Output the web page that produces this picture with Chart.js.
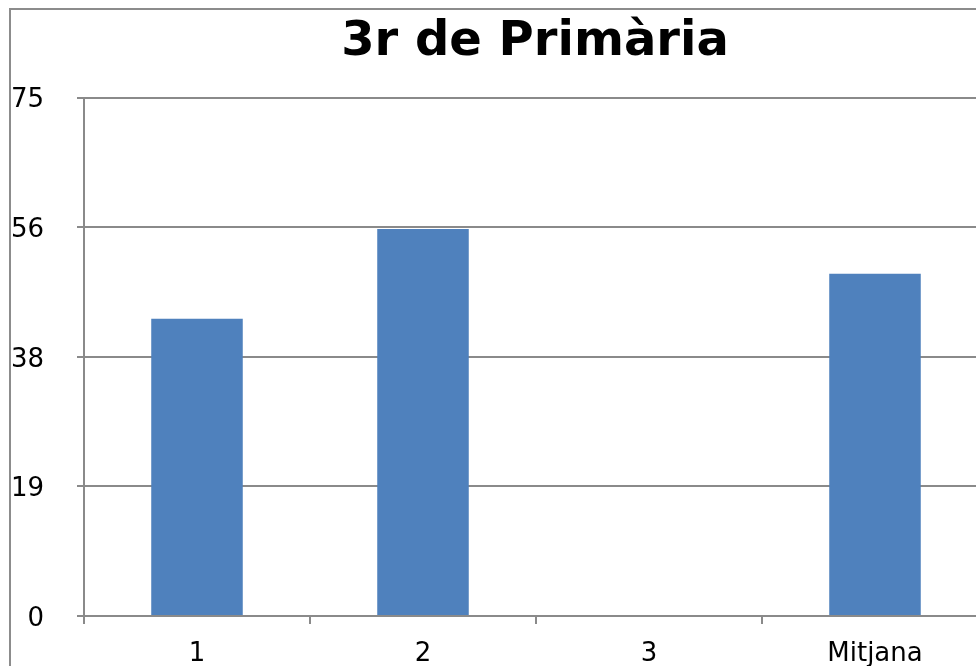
<!DOCTYPE html>
<html>
<head>
<meta charset="utf-8">
<title>3r de Primària</title>
<script src="https://cdn.jsdelivr.net/npm/chart.js@4"></script>
<style>
    html, body { margin: 0; padding: 0; background: #fff; overflow: hidden; }
    #frame {
        position: absolute; left: 9px; top: 8px;
        width: 1100px; height: 800px;
        border: 2px solid #8c8c8c;
    }
    #wrap { position: absolute; left: 0; top: 0; }
</style>
</head>
<body>
<div id="frame"></div>
<div id="wrap"><canvas id="chart" width="1070" height="680"></canvas></div>
<script>
// chart data
const title = '3r de Primària';
const categories = ['1', '2', '3', 'Mitjana'];
const values = [43, 56, 0, 49.5];
const yMax = 75;
const yStep = 18.75;

const gridColor = '#8a8a8a';
const font = 'DejaVu Sans, Verdana, sans-serif';

document.addEventListener('DOMContentLoaded', () => {
    const ctx = document.getElementById('chart');

    new Chart(ctx, {
        type: 'bar',
        data: {
            labels: categories,
            datasets: [{
                data: values,
                backgroundColor: '#4f81bd',
                borderWidth: 0,
                barPercentage: 0.405,
                categoryPercentage: 1
            }]
        },
        options: {
            responsive: false,
            animation: false,
            layout: { padding: 0 },
            plugins: {
                legend: { display: false },
                tooltip: { enabled: false },
                title: {
                    display: true,
                    text: title,
                    color: '#000',
                    font: { family: font, size: 48, weight: 'bold', lineHeight: 1.2 },
                    padding: { top: 14, bottom: 26 }
                }
            },
            scales: {
                x: {
                    grid: {
                        offset: true,
                        drawOnChartArea: false,
                        drawTicks: true,
                        tickLength: 8,
                        color: gridColor,
                        lineWidth: 2
                    },
                    border: { display: true, color: gridColor, width: 2 },
                    ticks: {
                        color: '#000',
                        font: { family: font, size: 26 },
                        padding: 15,
                        maxRotation: 0
                    },
                    afterFit: (scale) => { scale.height = 64; }
                },
                y: {
                    min: 0,
                    max: yMax,
                    grid: {
                        color: gridColor,
                        lineWidth: 2,
                        tickLength: 7
                    },
                    border: { display: true, color: gridColor, width: 2 },
                    ticks: {
                        stepSize: yStep,
                        color: '#000',
                        font: { family: font, size: 26 },
                        padding: 33,
                        labelOffset: 3,
                        callback: (v) => Math.round(v)
                    },
                    afterFit: (scale) => { scale.width = 84; }
                },
                // empty right axis, keeps the plot area clipped at the right like the original
                y2: {
                    position: 'right',
                    display: true,
                    grid: { display: false, drawOnChartArea: false },
                    border: { display: false },
                    ticks: { display: false },
                    afterFit: (scale) => { scale.width = 82; }
                }
            }
        }
    });
});
</script>
</body>
</html>
